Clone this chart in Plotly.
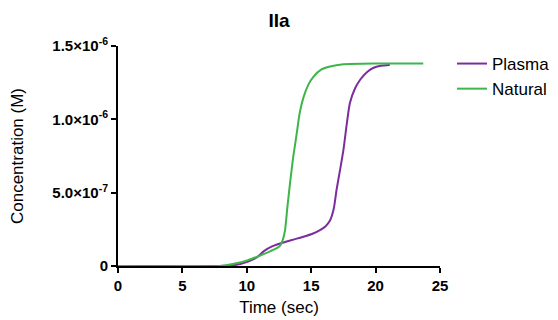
import plotly.graph_objects as go

plasma_t = [0, 7.9, 9.0, 10.1, 10.8, 11.3, 12.0, 12.83, 13.6, 14.4, 15.1, 15.68, 16.1, 16.46, 16.75, 16.97, 17.25, 17.5, 17.75, 18.0, 18.4, 18.8, 19.3, 19.8, 20.4, 21.1]
plasma_c = [0, 0, 0.005e-6, 0.03e-6, 0.06e-6, 0.1e-6, 0.135e-6, 0.16e-6, 0.18e-6, 0.2e-6, 0.22e-6, 0.245e-6, 0.27e-6, 0.31e-6, 0.39e-6, 0.52e-6, 0.66e-6, 0.79e-6, 0.96e-6, 1.11e-6, 1.21e-6, 1.27e-6, 1.32e-6, 1.35e-6, 1.365e-6, 1.37e-6]

natural_t = [0, 7.9, 9.0, 10.1, 11.0, 11.8, 12.3, 12.6, 12.8, 12.97, 13.15, 13.35, 13.6, 13.87, 14.1, 14.4, 14.8, 15.17, 15.8, 16.46, 17.5, 20.0, 23.7]
natural_c = [0, 0, 0.015e-6, 0.04e-6, 0.07e-6, 0.1e-6, 0.12e-6, 0.14e-6, 0.18e-6, 0.245e-6, 0.4e-6, 0.56e-6, 0.74e-6, 0.9e-6, 1.04e-6, 1.15e-6, 1.24e-6, 1.29e-6, 1.34e-6, 1.36e-6, 1.375e-6, 1.38e-6, 1.38e-6]

x_ticks = [0, 5, 10, 15, 20, 25]
y_ticks = [0, 0.5e-6, 1.0e-6, 1.5e-6]
y_labels = ["0", "5.0×10<sup>-7</sup>", "1.0×10<sup>-6</sup>", "1.5×10<sup>-6</sup>"]

fig = go.Figure()
fig.add_trace(go.Scatter(x=plasma_t, y=plasma_c, mode="lines", name="Plasma",
                         line=dict(color="#7B2D9E", width=2, shape="spline", smoothing=0.6)))
fig.add_trace(go.Scatter(x=natural_t, y=natural_c, mode="lines", name="Natural",
                         line=dict(color="#3DB54A", width=2, shape="spline", smoothing=0.6)))

font_family = "Liberation Sans, Arial, sans-serif"
fig.update_layout(
    width=558, height=320,
    margin=dict(l=118, r=118, t=46, b=54, autoexpand=False),
    paper_bgcolor="white", plot_bgcolor="white",
    font=dict(family=font_family, color="black"),
    title=dict(text="<b>IIa</b>", x=0.5, xref="paper", xanchor="center",
               y=1 - 20 / 320, yanchor="middle", font=dict(size=19)),
    showlegend=True,
    legend=dict(xref="container", yref="container", x=452 / 558, y=1 - 46 / 320,
                xanchor="left", yanchor="top",
                font=dict(size=17), tracegroupgap=0, itemwidth=30,
                bgcolor="rgba(0,0,0,0)"),
    xaxis=dict(range=[0, 25], tickvals=x_ticks, ticktext=[f"<b>{v}</b>" for v in x_ticks],
               showgrid=False, zeroline=False, showline=True, linecolor="black", linewidth=2,
               ticks="outside", ticklen=5, tickwidth=2, tickcolor="black", automargin=False,
               tickfont=dict(size=15), title=dict(text="Time (sec)", font=dict(size=17), standoff=8)),
    yaxis=dict(range=[0, 1.5e-6], tickvals=y_ticks, ticktext=[f"<b>{t}</b>" for t in y_labels],
               showgrid=False, zeroline=False, showline=True, linecolor="black", linewidth=2,
               ticks="outside", ticklen=5, tickwidth=2, tickcolor="black", automargin=False,
               tickfont=dict(size=15), title=dict(text="Concentration (M)", font=dict(size=17), standoff=24)),
)

fig.write_html("out.html")
